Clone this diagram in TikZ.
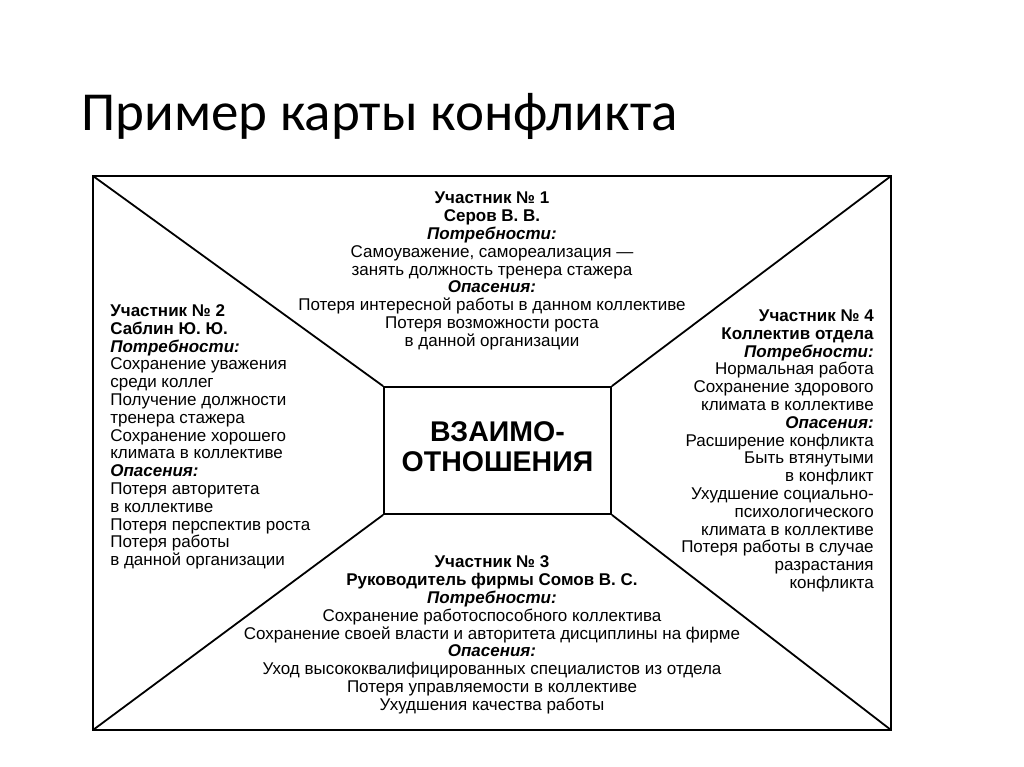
\documentclass[tikz,border=0pt]{standalone}
\usepackage{fontspec}
\setmainfont{Liberation Sans}
\newfontfamily\titlefont{Carlito}
\usetikzlibrary{positioning}
\newcommand{\who}[1]{\textbf{#1}}
\newcommand{\lbl}[1]{\textbf{\textit{#1}}}

\begin{document}
\begin{tikzpicture}[
            x = 1pt, y = -1pt, % pixel grid of the slide
            semithick % line style
        ]

        \tikzstyle{frame}=[draw, line width = 2.6pt]
        \tikzstyle{ray}=[draw, line width = 1.8pt]
        \tikzstyle{block}=[inner sep = 0pt, font = \fontsize{17}{17.8}\selectfont]

        \useasboundingbox (0,0) rectangle (1024,767);

        % title
        \node[anchor = base west, inner sep = 0pt, font = \titlefont\fontsize{55}{60}\selectfont] (T) at (81,131) {Пример карты конфликта};

        % frame
        \coordinate (oNW) at (93,176);
        \coordinate (oNE) at (891,176);
        \coordinate (oSE) at (891,730);
        \coordinate (oSW) at (93,730);
        \draw[frame] (oNW) rectangle (oSE);

        % relations
        \node[draw, line width = 1.8pt, minimum width = 227pt, minimum height = 127pt,
              label = {[align = center, yshift = 4pt, font = \bfseries\fontsize{28.5}{30.5}\selectfont]center:ВЗАИМО-\\ОТНОШЕНИЯ}] (Mid) at (497.5,450.5) {};

        \path[ray] (oNW) -- (Mid.north west);
        \path[ray] (oNE) -- (Mid.north east);
        \path[ray] (oSE) -- (Mid.south east);
        \path[ray] (oSW) -- (Mid.south west);

        % participants
        \node[block, align = center] (P1) at (492,271) {\who{Участник № 1}\\\who{Серов В. В.}\\\lbl{Потребности:}\\
            Самоуважение, самореализация —\\занять должность тренера стажера\\\lbl{Опасения:}\\
            Потеря интересной работы в данном коллективе\\Потеря возможности роста\\в данной организации};

        \node[block, align = left, anchor = west] (P2) at (110,437) {\who{Участник № 2}\\\who{Саблин Ю. Ю.}\\\lbl{Потребности:}\\
            Сохранение уважения\\среди коллег\\Получение должности\\тренера стажера\\Сохранение хорошего\\климата в коллективе\\
            \lbl{Опасения:}\\Потеря авторитета\\в коллективе\\Потеря перспектив роста\\Потеря работы\\в данной организации};

        \node[block, align = center] (P3) at (492,635) {\who{Участник № 3}\\\who{Руководитель фирмы Сомов В. С.}\\\lbl{Потребности:}\\
            Сохранение работоспособного коллектива\\Сохранение своей власти и авторитета дисциплины на фирме\\\lbl{Опасения:}\\
            Уход высококвалифицированных специалистов из отдела\\Потеря управляемости в коллективе\\Ухудшения качества работы};

        \node[block, align = right, anchor = east] (P4) at (874,451) {\who{Участник № 4}\\\who{Коллектив отдела}\\\lbl{Потребности:}\\
            Нормальная работа\\Сохранение здорового\\климата в коллективе\\\lbl{Опасения:}\\
            Расширение конфликта\\Быть втянутыми\\в конфликт\\Ухудшение социально-\\психологического\\климата в коллективе\\
            Потеря работы в случае\\разрастания\\конфликта};

\end{tikzpicture}
\end{document}
